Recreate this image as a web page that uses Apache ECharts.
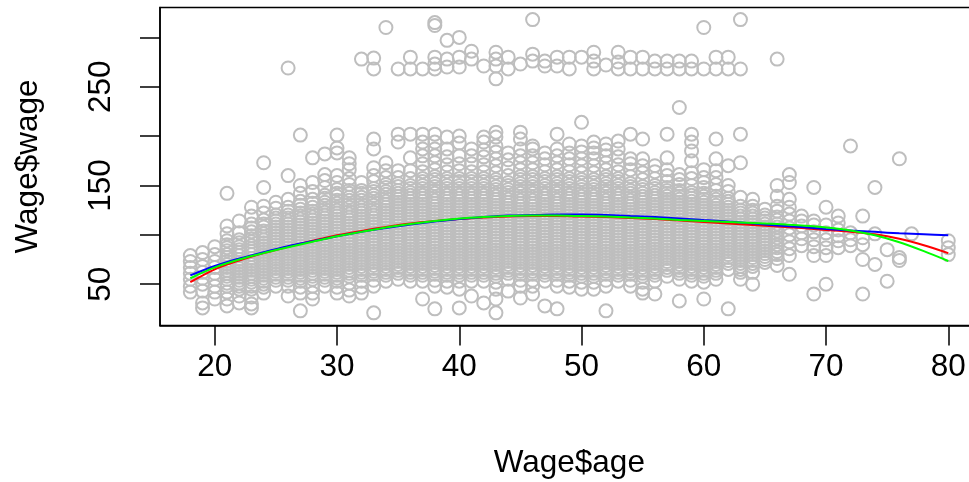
<!DOCTYPE html>
<html>
<head>
<meta charset="utf-8">
<script src="https://cdn.jsdelivr.net/npm/echarts@6/dist/echarts.min.js"></script>
<style>
  html, body { margin: 0; padding: 0; background: #fff; }
  #main { width: 969px; height: 482px; }
</style>
</head>
<body>
<div id="main"></div>
<script>
var ages = [18, 19, 20, 21, 22, 23, 24, 25, 26, 27, 28, 29, 30, 31, 32, 33, 34, 35, 36, 37, 38, 39, 40,
  41, 42, 43, 44, 45, 46, 47, 48, 49, 50, 51, 52, 53, 54, 55, 56, 57, 58, 59, 60,
  61, 62, 63, 64, 65, 66, 67, 68, 69, 70, 71, 72, 73, 74, 75, 76, 77, 80];

// wages read per age column (outer band + outliers)
var wages = [
  [42, 48, 55, 61, 67, 73, 79],
  [26, 31, 43, 50, 56, 62, 68, 75, 82],
  [35, 42, 48, 55, 61, 67, 73, 80, 88],
  [28, 35, 42, 48, 55, 61, 67, 73, 80, 87, 94, 101, 109, 142],
  [31, 38, 45, 51, 57, 63, 69, 75, 82, 88, 95, 102, 114],
  [26, 30, 37, 45, 52, 58, 64, 70, 76, 83, 89, 96, 103, 111, 119, 128],
  [41, 47, 53, 59, 65, 71, 77, 83, 89, 95, 101, 108, 115, 122, 129, 148, 173],
  [48, 54, 60, 66, 72, 78, 84, 90, 96, 102, 108, 114, 120, 127, 133],
  [38, 48, 54, 60, 66, 72, 78, 84, 90, 96, 102, 108, 114, 120, 128, 136, 160, 269],
  [23, 41, 47, 53, 59, 65, 71, 77, 83, 89, 95, 101, 107, 113, 119, 126, 134, 142, 150, 201],
  [35, 41, 48, 55, 61, 67, 73, 79, 85, 91, 97, 103, 109, 115, 121, 128, 136, 144, 153, 178],
  [48, 54, 60, 66, 72, 78, 84, 90, 96, 102, 108, 114, 120, 126, 133, 140, 148, 155, 161, 182],
  [41, 47, 53, 59, 65, 71, 77, 83, 89, 95, 101, 107, 113, 119, 125, 132, 139, 146, 153, 160, 183, 188, 201],
  [38, 44, 51, 58, 64, 70, 76, 82, 88, 94, 100, 106, 112, 118, 124, 131, 138, 145, 151, 157, 166, 172, 178],
  [41, 47, 53, 59, 65, 71, 77, 83, 89, 95, 101, 107, 113, 119, 125, 131, 138, 145, 153, 278],
  [21, 48, 54, 60, 66, 72, 78, 84, 90, 96, 102, 108, 114, 120, 126, 133, 140, 147, 154, 160, 168, 187, 197, 268, 279],
  [53, 59, 65, 71, 77, 83, 89, 95, 101, 107, 113, 119, 125, 131, 137, 144, 151, 158, 165, 173, 310],
  [55, 61, 67, 73, 79, 85, 91, 97, 103, 109, 115, 121, 127, 133, 139, 145, 152, 158, 165, 194, 202, 268],
  [53, 59, 65, 71, 77, 83, 89, 95, 101, 107, 113, 119, 125, 131, 137, 143, 150, 157, 165, 178, 202, 268, 280],
  [35, 53, 59, 65, 71, 77, 83, 89, 95, 101, 107, 113, 119, 125, 131, 137, 143, 150, 157, 164, 172, 180, 187, 194, 202, 268],
  [25, 48, 54, 60, 66, 72, 78, 84, 90, 96, 102, 108, 114, 120, 126, 132, 138, 145, 152, 159, 166, 173, 180, 187, 194, 202, 268, 273, 280, 312, 315],
  [47, 53, 59, 65, 71, 77, 83, 89, 95, 101, 107, 113, 119, 125, 131, 137, 143, 150, 157, 164, 171, 179, 187, 199, 270, 278, 297],
  [26, 45, 53, 59, 65, 71, 77, 83, 89, 95, 101, 107, 113, 119, 125, 131, 137, 143, 150, 157, 165, 172, 180, 193, 200, 270, 280, 300],
  [38, 53, 59, 65, 71, 77, 83, 89, 95, 101, 107, 113, 119, 125, 131, 137, 143, 150, 157, 164, 172, 180, 187, 278, 286],
  [31, 53, 59, 65, 71, 77, 83, 89, 95, 101, 107, 113, 119, 125, 131, 137, 143, 150, 157, 164, 171, 179, 186, 194, 199, 271],
  [21, 35, 45, 52, 58, 64, 70, 76, 82, 88, 94, 100, 106, 112, 118, 124, 130, 136, 142, 149, 156, 163, 170, 177, 184, 190, 199, 204, 258, 271, 278, 285],
  [43, 55, 61, 67, 73, 79, 85, 91, 97, 103, 109, 115, 121, 127, 133, 139, 146, 153, 160, 168, 176, 183, 268, 280],
  [36, 48, 54, 60, 66, 72, 78, 84, 90, 96, 102, 108, 114, 120, 126, 132, 138, 145, 152, 159, 166, 173, 180, 187, 197, 204, 273],
  [40, 48, 54, 60, 66, 72, 78, 84, 90, 96, 102, 108, 114, 120, 126, 132, 138, 145, 152, 159, 166, 173, 180, 187, 190, 276, 283, 318],
  [28, 53, 59, 65, 71, 77, 83, 89, 95, 101, 107, 113, 119, 125, 131, 137, 143, 150, 157, 164, 171, 177, 183, 271, 276],
  [25, 48, 54, 60, 66, 72, 78, 84, 90, 96, 102, 108, 114, 120, 126, 132, 138, 145, 152, 159, 166, 173, 180, 187, 202, 271, 280],
  [47, 53, 59, 65, 71, 77, 83, 89, 95, 101, 107, 113, 119, 125, 131, 137, 143, 150, 157, 164, 171, 177, 183, 192, 268, 280],
  [45, 52, 58, 64, 70, 76, 82, 88, 94, 100, 106, 112, 118, 124, 130, 136, 142, 149, 156, 163, 170, 177, 184, 190, 214, 280],
  [45, 52, 58, 64, 70, 76, 82, 88, 94, 100, 106, 112, 118, 124, 130, 136, 142, 149, 156, 163, 170, 177, 183, 188, 194, 268, 276, 285],
  [23, 48, 54, 60, 66, 72, 78, 84, 90, 96, 102, 108, 114, 120, 126, 132, 138, 145, 152, 159, 166, 173, 180, 186, 192, 272],
  [53, 59, 65, 71, 77, 83, 89, 95, 101, 107, 113, 119, 125, 131, 137, 143, 150, 157, 164, 171, 179, 187, 195, 268, 275, 285],
  [48, 54, 60, 66, 72, 78, 84, 90, 96, 102, 108, 114, 120, 126, 132, 138, 145, 152, 159, 166, 172, 177, 202, 268, 280],
  [41, 45, 52, 58, 64, 70, 76, 82, 88, 94, 100, 106, 112, 118, 124, 130, 136, 142, 149, 156, 163, 170, 177, 197, 268, 280],
  [40, 53, 59, 65, 71, 77, 83, 89, 95, 101, 107, 113, 119, 125, 131, 137, 143, 150, 157, 164, 170, 268, 276],
  [58, 64, 70, 76, 82, 88, 94, 100, 106, 112, 118, 124, 130, 136, 142, 148, 154, 160, 166, 178, 202, 268, 276],
  [33, 55, 61, 67, 73, 79, 85, 91, 97, 103, 109, 115, 121, 127, 133, 139, 145, 151, 156, 161, 229, 268, 276],
  [53, 59, 65, 71, 77, 83, 89, 95, 101, 107, 113, 119, 125, 131, 137, 143, 150, 157, 163, 175, 185, 194, 202, 268, 276],
  [35, 52, 58, 64, 70, 76, 82, 88, 94, 100, 106, 112, 118, 124, 130, 136, 142, 148, 153, 158, 166, 268, 310],
  [55, 61, 67, 73, 79, 85, 91, 97, 103, 109, 115, 121, 127, 133, 139, 145, 151, 158, 165, 177, 197, 268, 280],
  [25, 65, 71, 77, 83, 89, 95, 101, 107, 113, 119, 125, 131, 137, 144, 150, 170, 268, 280],
  [55, 62, 68, 74, 80, 86, 92, 98, 104, 110, 116, 122, 129, 138, 173, 202, 268, 318],
  [50, 62, 68, 74, 80, 86, 92, 98, 104, 110, 116, 122, 129, 136],
  [72, 78, 84, 90, 96, 102, 108, 114, 120, 126],
  [69, 76, 83, 90, 97, 104, 111, 118, 124, 129, 139, 150, 278],
  [60, 79, 86, 93, 100, 107, 114, 121, 128, 136, 153, 161],
  [89, 96, 102, 109, 114, 119],
  [40, 79, 88, 95, 103, 110, 114, 148],
  [50, 79, 87, 95, 102, 110, 128],
  [87, 94, 99, 105, 112, 119],
  [89, 95, 102, 190],
  [40, 75, 90, 97, 119],
  [70, 101, 148],
  [53, 85],
  [74, 77, 177],
  [101],
  [80, 87, 94]
];

// extra wages in the crowded middle of each column
var coreWages = [
  [], [], [],
  [51, 58, 64, 70, 77, 84, 90],
  [48, 54, 60, 66, 72, 79, 85, 92],
  [48, 55, 61, 67, 73, 80, 86, 93, 99, 107],
  [50, 56, 62, 68, 74, 80, 86, 92, 98, 104, 111],
  [57, 63, 69, 75, 81, 87, 93, 99, 105, 111, 117],
  [57, 63, 69, 75, 81, 87, 93, 99, 105, 111, 117, 124],
  [56, 62, 68, 74, 80, 86, 92, 98, 104, 110, 116, 122, 130],
  [58, 64, 70, 76, 82, 88, 94, 100, 106, 112, 118, 124, 132],
  [57, 63, 69, 75, 81, 87, 93, 99, 105, 111, 117, 123, 130, 137],
  [56, 62, 68, 74, 80, 86, 92, 98, 104, 110, 116, 122, 128, 135, 142],
  [61, 67, 73, 79, 85, 91, 97, 103, 109, 115, 121, 128, 135, 142],
  [62, 68, 74, 80, 86, 92, 98, 104, 110, 116, 122, 128, 135, 142],
  [63, 69, 75, 81, 87, 93, 99, 105, 111, 117, 123, 130, 137, 144],
  [62, 68, 74, 80, 86, 92, 98, 104, 110, 116, 122, 128, 134, 141, 148],
  [64, 70, 76, 82, 88, 94, 100, 106, 112, 118, 124, 130, 136, 142, 149],
  [62, 68, 74, 80, 86, 92, 98, 104, 110, 116, 122, 128, 134, 140, 147],
  [62, 68, 74, 80, 86, 92, 98, 104, 110, 116, 122, 128, 134, 140, 147, 154],
  [63, 69, 75, 81, 87, 93, 99, 105, 111, 117, 123, 129, 135, 142, 149, 156],
  [62, 68, 74, 80, 86, 92, 98, 104, 110, 116, 122, 128, 134, 140, 147, 154],
  [62, 68, 74, 80, 86, 92, 98, 104, 110, 116, 122, 128, 134, 140, 147, 154],
  [62, 68, 74, 80, 86, 92, 98, 104, 110, 116, 122, 128, 134, 140, 147, 154],
  [62, 68, 74, 80, 86, 92, 98, 104, 110, 116, 122, 128, 134, 140, 147, 154],
  [61, 67, 73, 79, 85, 91, 97, 103, 109, 115, 121, 127, 133, 139, 146, 153],
  [64, 70, 76, 82, 88, 94, 100, 106, 112, 118, 124, 130, 136, 143, 150],
  [63, 69, 75, 81, 87, 93, 99, 105, 111, 117, 123, 129, 135, 142, 149, 156],
  [63, 69, 75, 81, 87, 93, 99, 105, 111, 117, 123, 129, 135, 142, 149, 156],
  [62, 68, 74, 80, 86, 92, 98, 104, 110, 116, 122, 128, 134, 140, 147, 154],
  [63, 69, 75, 81, 87, 93, 99, 105, 111, 117, 123, 129, 135, 142, 149, 156],
  [62, 68, 74, 80, 86, 92, 98, 104, 110, 116, 122, 128, 134, 140, 147, 154],
  [61, 67, 73, 79, 85, 91, 97, 103, 109, 115, 121, 127, 133, 139, 146, 153],
  [61, 67, 73, 79, 85, 91, 97, 103, 109, 115, 121, 127, 133, 139, 146, 153],
  [63, 69, 75, 81, 87, 93, 99, 105, 111, 117, 123, 129, 135, 142, 149, 156],
  [62, 68, 74, 80, 86, 92, 98, 104, 110, 116, 122, 128, 134, 140, 147, 154],
  [63, 69, 75, 81, 87, 93, 99, 105, 111, 117, 123, 129, 135, 142, 149],
  [61, 67, 73, 79, 85, 91, 97, 103, 109, 115, 121, 127, 133, 139, 146],
  [62, 68, 74, 80, 86, 92, 98, 104, 110, 116, 122, 128, 134, 140, 147],
  [67, 73, 79, 85, 91, 97, 103, 109, 115, 121, 127, 133, 139, 145],
  [64, 70, 76, 82, 88, 94, 100, 106, 112, 118, 124, 130, 136, 142],
  [62, 68, 74, 80, 86, 92, 98, 104, 110, 116, 122, 128, 134, 140],
  [61, 67, 73, 79, 85, 91, 97, 103, 109, 115, 121, 127, 133, 139],
  [64, 70, 76, 82, 88, 94, 100, 106, 112, 118, 124, 130, 136],
  [74, 80, 86, 92, 98, 104, 110, 116, 122, 128, 134],
  [65, 71, 77, 83, 89, 95, 101, 107, 113, 119, 125],
  [71, 77, 83, 89, 95, 101, 107, 113, 119, 125],
  [75, 81, 87, 93, 99, 105, 111, 117],
  [80, 87, 94, 101, 108, 115],
  [], [], [], [], [], [], [], [], [], [], [], []
];

// fitted curves
var fitAges = [18, 20, 22, 24, 26, 28, 30, 32, 34, 36, 38, 40, 42, 44, 46, 48, 50,
  52, 54, 56, 58, 60, 62, 64, 66, 68, 70, 72, 74, 76, 78, 80];
var fitRed = [52, 65, 74, 81.5, 88, 94, 99.5, 104, 108, 111.5, 114, 116, 117.5, 118.5, 119, 119, 118.5,
  118, 117, 116, 114.5, 113, 111.5, 110, 108.5, 107, 105, 103, 100.5, 96, 89.5, 81.5];
var fitBlue = [59, 68.5, 76, 82.5, 88.5, 93.5, 98.5, 103, 107, 110.5, 113.5, 116, 118, 119.5, 120, 120.5, 120.5,
  120, 119, 118, 116.5, 115, 113.5, 111.5, 109.5, 108, 106, 104.5, 103, 101.5, 100.5, 99.5];
var fitGreen = [56, 67, 75, 81.5, 87.5, 93, 98.5, 103, 107.5, 111, 114, 116.5, 118, 119, 119.5, 119.5, 119,
  118.5, 117.5, 116.5, 115, 114, 113, 112, 111, 109.5, 107.5, 104.5, 99.5, 92.5, 83.5, 73.5];

var xTicks = [20, 30, 40, 50, 60, 70, 80];
var yTicks = [50, 100, 150, 200, 250, 300];
var yLabels = [50, 150, 250];

var points = [];
for (var i = 0; i < ages.length; i++) {
  var col = wages[i].concat(coreWages[i] || []);
  for (var j = 0; j < col.length; j++) {
    points.push([ages[i], col[j]]);
  }
}

function fitLine(vals, color) {
  var d = [];
  for (var k = 0; k < fitAges.length; k++) d.push([fitAges[k], vals[k]]);
  return {
    type: 'line',
    data: d,
    showSymbol: false,
    smooth: 0.3,
    lineStyle: { color: color, width: 2 },
    z: 5
  };
}

var chart = echarts.init(document.getElementById('main'));
var font = 'Liberation Sans, Arial, sans-serif';
chart.setOption({
  animation: false,
  backgroundColor: '#fff',
  textStyle: { fontFamily: font },
  grid: {
    left: 160, top: 7.5, width: 818.6, height: 318,
    outerBoundsMode: 'none',
    containLabel: false,
    show: true, borderColor: '#000', borderWidth: 1.5, backgroundColor: 'transparent'
  },
  xAxis: {
    type: 'value',
    min: 15.52, max: 82.48,
    splitLine: { show: false },
    axisLine: { show: true, lineStyle: { color: '#000', width: 1.5 } },
    axisTick: { show: true, customValues: xTicks, length: 20, lineStyle: { color: '#000', width: 1.5 } },
    axisLabel: { customValues: xTicks, color: '#000', fontSize: 31.5, margin: 26, fontFamily: font },
    name: 'Wage$age',
    nameLocation: 'middle',
    nameGap: 122,
    nameTextStyle: { color: '#000', fontSize: 31.5, fontFamily: font }
  },
  yAxis: {
    type: 'value',
    min: 8.16, max: 330.27,
    splitLine: { show: false },
    axisLine: { show: true, lineStyle: { color: '#000', width: 1.5 } },
    axisTick: { show: true, customValues: yTicks, length: 20, lineStyle: { color: '#000', width: 1.5 } },
    axisLabel: { customValues: yLabels, color: '#000', fontSize: 31.5, margin: 43, rotate: 90, fontFamily: font },
    name: 'Wage$wage',
    nameLocation: 'middle',
    nameGap: 116,
    nameTextStyle: { color: '#000', fontSize: 31.5, fontFamily: font }
  },
  series: [
    {
      type: 'scatter',
      data: points,
      symbol: 'circle',
      symbolSize: 13,
      itemStyle: { color: 'rgba(0,0,0,0)', borderColor: '#BEBEBE', borderWidth: 2, opacity: 1 },
      silent: true,
      z: 2
    },
    fitLine(fitRed, '#FF0000'),
    fitLine(fitBlue, '#0000FF'),
    fitLine(fitGreen, '#00FF00')
  ]
});
</script>
</body>
</html>
